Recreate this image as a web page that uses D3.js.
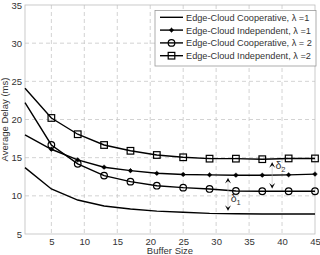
<!DOCTYPE html>
<html>
<head>
<meta charset="utf-8">
<script src="https://cdn.jsdelivr.net/npm/d3@7"></script>
<style>
  body { margin: 0; background: #fff; }
  svg { display: block; font-family: "Liberation Sans", Arial, sans-serif; }
</style>
</head>
<body>
<div class="chart"></div>
<script>
var bufferSize = [1, 5, 9, 13, 17, 21, 25, 29, 33, 37, 41, 45];
var coopL1 = [13.7, 10.9, 9.45, 8.67, 8.28, 8.0, 7.84, 7.7, 7.65, 7.62, 7.62, 7.62];
var indepL1 = [18.0, 16.1, 14.7, 13.75, 13.3, 12.95, 12.8, 12.75, 12.7, 12.7, 12.75, 12.85];
var coopL2 = [22.2, 16.66, 14.2, 12.65, 11.86, 11.33, 11.07, 10.9, 10.63, 10.6, 10.6, 10.6];
var indepL2 = [24.1, 20.2, 18.07, 16.66, 15.9, 15.35, 15.05, 14.87, 14.87, 14.8, 14.9, 14.9];
var xTicks = [5, 10, 15, 20, 25, 30, 35, 40, 45];
var yTicks = [5, 10, 15, 20, 25, 30, 35];
var legendLabels = [
  "Edge-Cloud Cooperative, \u03bb =1",
  "Edge-Cloud Independent, \u03bb =1",
  "Edge-Cloud Cooperative, \u03bb = 2",
  "Edge-Cloud Independent, \u03bb =2"
];

var svgWidth = 320, svgHeight = 255;
var margin = { top: 5, right: 5, bottom: 21, left: 25 };
var width = svgWidth - margin.left - margin.right;
var height = svgHeight - margin.top - margin.bottom;

var svg = d3.select(".chart").append("svg")
  .attr("width", svgWidth)
  .attr("height", svgHeight);

var g = svg.append("g")
  .attr("transform", `translate(${margin.left}, ${margin.top})`);

var x = d3.scaleLinear().domain([1, 45]).range([0, width]);
var y = d3.scaleLinear().domain([5, 35]).range([height, 0]);

// grid
g.selectAll(".vgrid").data(xTicks.filter(d => d < 45)).enter().append("line")
  .attr("x1", d => x(d)).attr("x2", d => x(d))
  .attr("y1", 0).attr("y2", height)
  .attr("stroke", "#c8c8c8").attr("stroke-dasharray", "4,3").attr("stroke-width", 0.8);
g.selectAll(".hgrid").data(yTicks.filter(d => d > 5 && d < 35)).enter().append("line")
  .attr("x1", 0).attr("x2", width)
  .attr("y1", d => y(d)).attr("y2", d => y(d))
  .attr("stroke", "#c8c8c8").attr("stroke-dasharray", "4,3").attr("stroke-width", 0.8);

// box
g.append("rect").attr("width", width).attr("height", height)
  .attr("fill", "none").attr("stroke", "#bdbdbd").attr("stroke-width", 0.8);

// axes
var xAxis = g.append("g")
  .attr("transform", `translate(0, ${height})`)
  .call(d3.axisBottom(x).tickValues(xTicks).tickSize(0).tickPadding(3.8));
var yAxis = g.append("g")
  .call(d3.axisLeft(y).tickValues(yTicks).tickSize(0).tickPadding(3));
[xAxis, yAxis].forEach(function(a) {
  a.select(".domain").remove();
  a.selectAll("text").attr("font-size", "9.5px").attr("fill", "#333")
    .attr("font-family", "'Liberation Sans', Arial, sans-serif");
});

// axis titles
g.append("text")
  .attr("transform", "rotate(-90)")
  .attr("x", -height / 2).attr("y", -17)
  .attr("text-anchor", "middle").attr("font-size", "9.5px").attr("fill", "#333")
  .text("Average Delay (ms)");
g.append("text")
  .attr("x", width / 2).attr("y", height + 20)
  .attr("text-anchor", "middle").attr("font-size", "9.5px").attr("fill", "#333")
  .text("Buffer Size");

var line = d3.line().x(d => x(d[0])).y(d => y(d[1]));
function pts(vals) { return bufferSize.map((b, i) => [b, vals[i]]); }

var series = [
  { vals: coopL1, marker: "none" },
  { vals: indepL1, marker: "dot" },
  { vals: coopL2, marker: "circle" },
  { vals: indepL2, marker: "square" }
];

function drawMarker(sel, type, cx, cy) {
  if (type === "dot") {
    sel.append("circle").attr("cx", cx).attr("cy", cy).attr("r", 1.9).attr("fill", "#000");
    sel.append("path").attr("d", `M${cx-2.5},${cy}H${cx+2.5}M${cx},${cy-2.5}V${cy+2.5}`)
      .attr("stroke", "#000").attr("stroke-width", 0.8);
  } else if (type === "circle") {
    sel.append("circle").attr("cx", cx).attr("cy", cy).attr("r", 3.3)
      .attr("fill", "none").attr("stroke", "#000").attr("stroke-width", 1.2);
  } else if (type === "square") {
    sel.append("rect").attr("x", cx - 3.3).attr("y", cy - 3.3).attr("width", 6.6).attr("height", 6.6)
      .attr("fill", "none").attr("stroke", "#000").attr("stroke-width", 1.2);
  }
}

series.forEach(function(s) {
  g.append("path").datum(pts(s.vals)).attr("d", line)
    .attr("fill", "none").attr("stroke", "#000").attr("stroke-width", 1.4);
  var mg = g.append("g");
  pts(s.vals).filter(d => d[0] >= 5).forEach(function(d) {
    drawMarker(mg, s.marker, x(d[0]), y(d[1]));
  });
});

// delta annotations
function arrowHead(cx, cy, dir) {
  // dir -1 = up, 1 = down
  var h = 5.5 * dir;
  g.append("path")
    .attr("d", `M${cx},${cy} L${cx-3},${cy-h} L${cx},${cy-h*0.55} L${cx+3},${cy-h} Z`)
    .attr("fill", "#000");
}
function delta(xv, yTop, yBot, sub, lx, ly) {
  var cx = x(xv);
  g.append("line").attr("x1", cx).attr("x2", cx)
    .attr("y1", y(yTop)).attr("y2", y(yBot))
    .attr("stroke", "#bbb").attr("stroke-width", 0.6);
  arrowHead(cx, y(yTop), -1);
  arrowHead(cx, y(yBot), 1);
  var t = g.append("text").attr("x", lx).attr("y", ly)
    .attr("font-size", "10.5px").attr("fill", "#333").text("\u03b4");
  t.append("tspan").attr("dy", 3).attr("font-size", "7.5px").text(sub);
}
delta(31.8, 12.35, 8.05, "1", x(32.2), y(9.15));
delta(38.5, 14.4, 10.95, "2", x(39.0), y(13.55));

// legend
var lg = g.append("g").attr("transform", "translate(130, 5.5)");
lg.append("rect").attr("width", 161).attr("height", 55.5)
  .attr("fill", "#fff").attr("stroke", "#999").attr("stroke-width", 0.8);
legendLabels.forEach(function(lbl, i) {
  var ly = 6.8 + i * 12.8;
  lg.append("line").attr("x1", 5).attr("x2", 28).attr("y1", ly).attr("y2", ly)
    .attr("stroke", "#000").attr("stroke-width", 1.4);
  drawMarker(lg, series[i].marker, 16.5, ly);
  lg.append("text").attr("x", 31).attr("y", ly + 3.4)
    .attr("font-size", "9.2px").attr("fill", "#333").text(lbl);
});
</script>
</body>
</html>
